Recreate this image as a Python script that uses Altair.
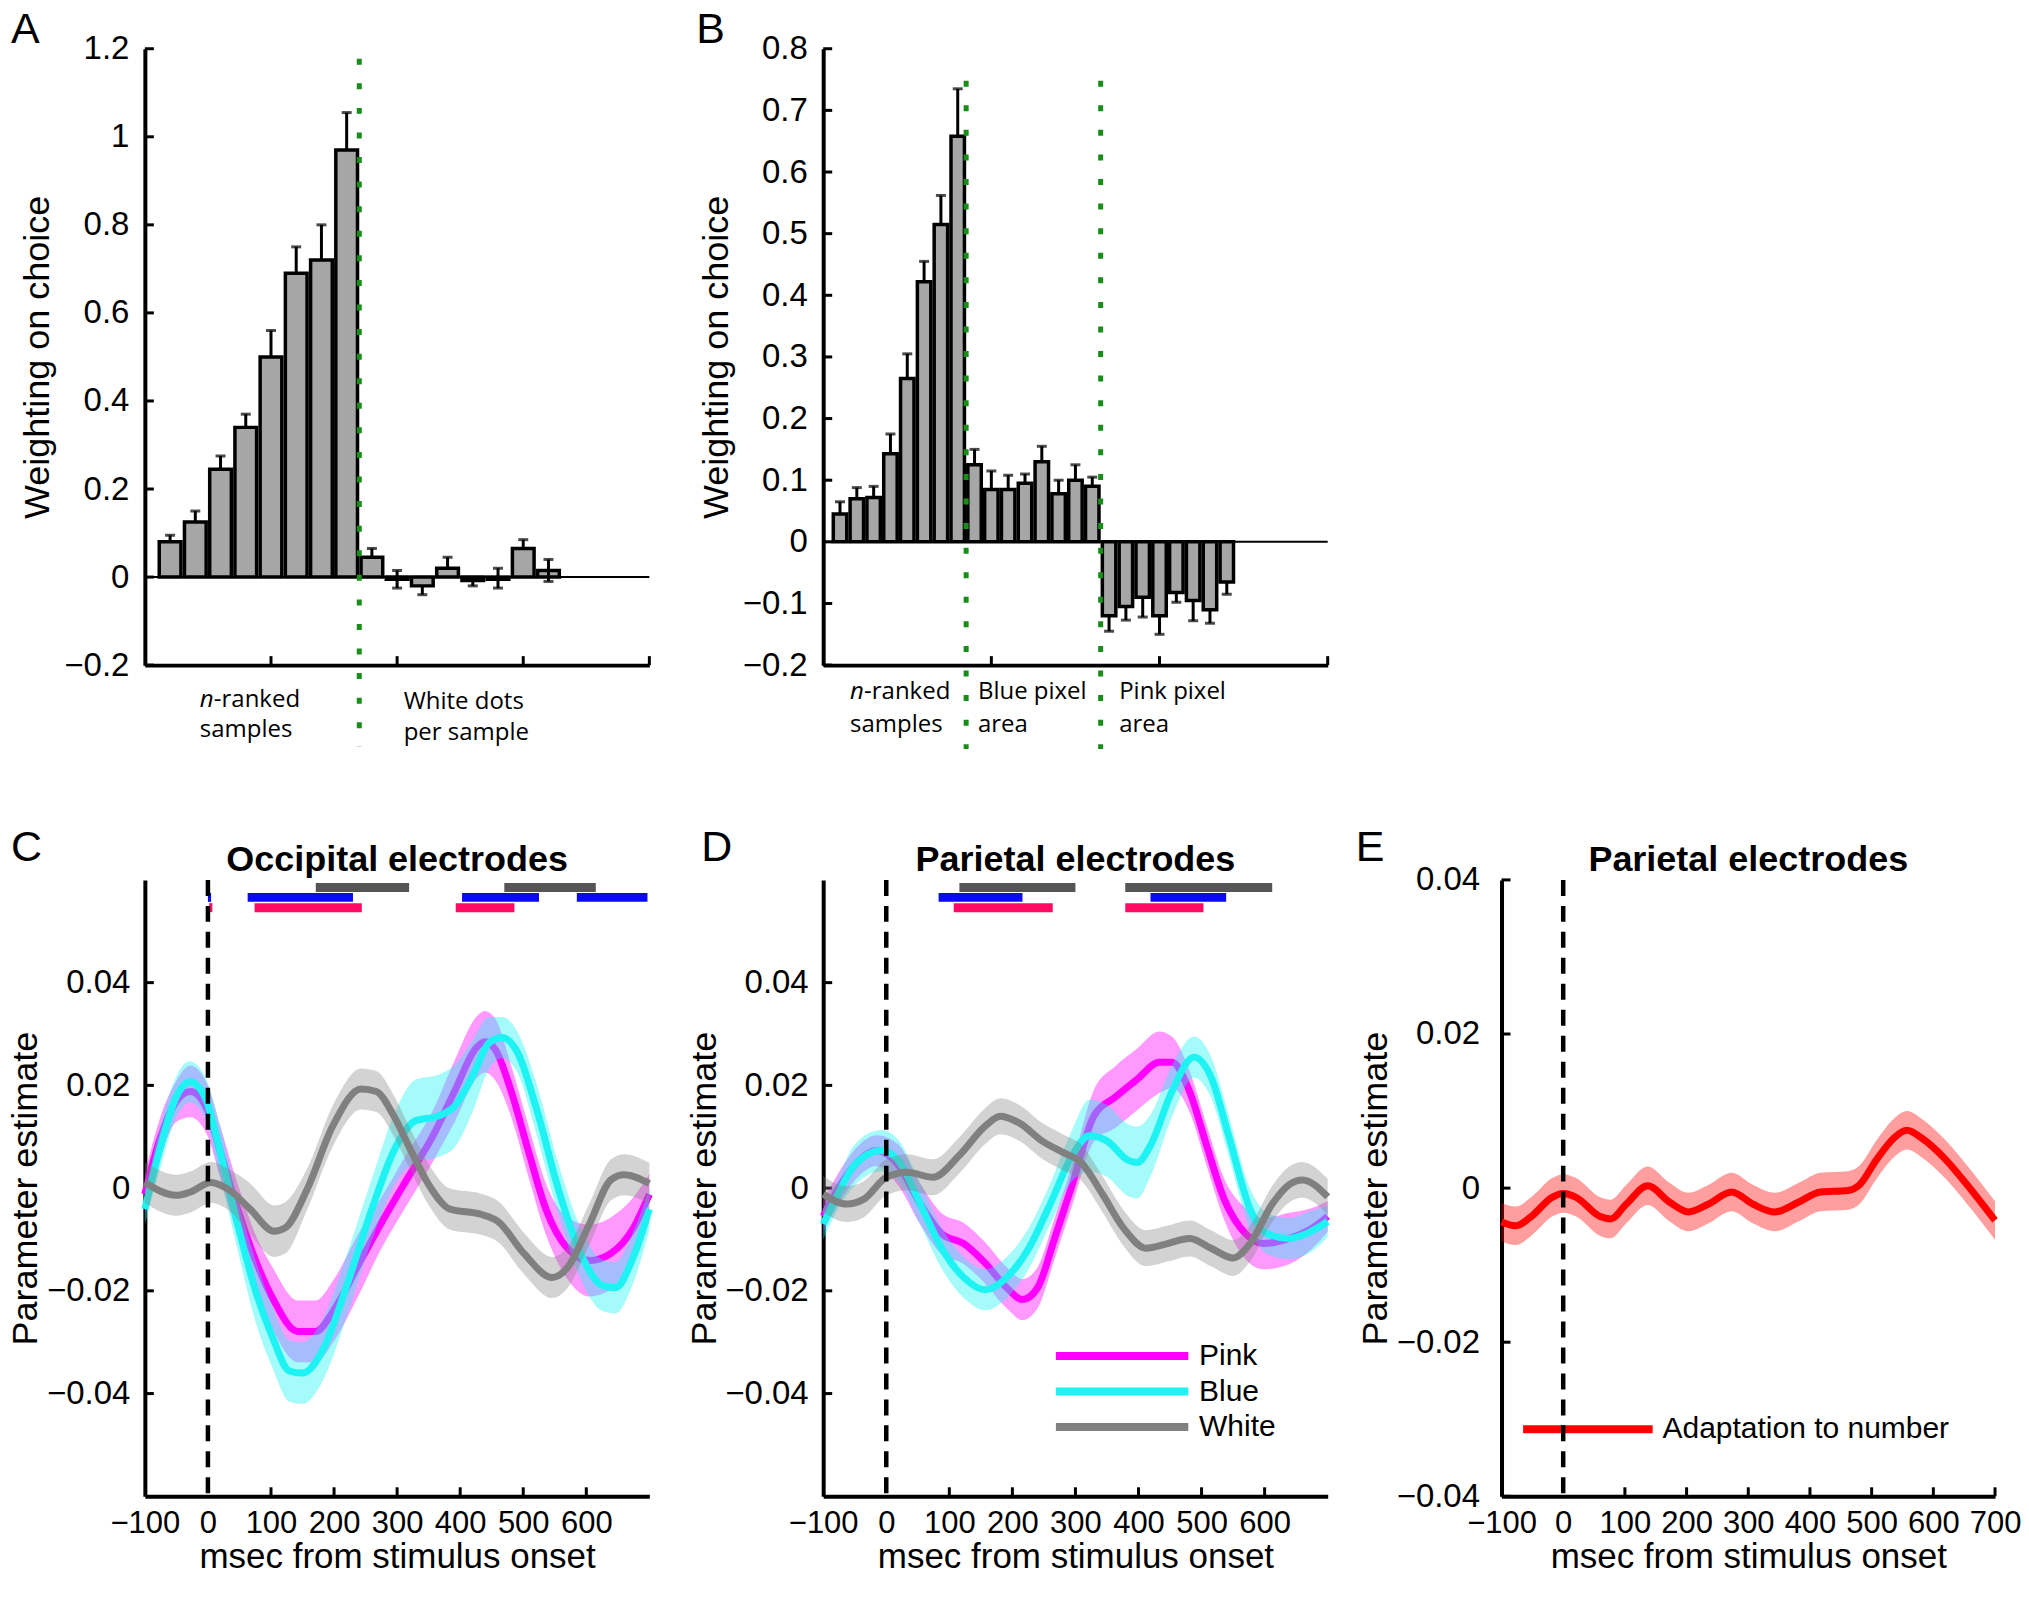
import altair as alt
import pandas as pd
import numpy as np

FONT = "Liberation Sans"
ANNOT = "Open Sans"
W = 505
WE = 494
H = 617

# ---------------- Panel A data ----------------
A_vals = [0.08, 0.125, 0.245, 0.34, 0.50, 0.69, 0.72, 0.97,
          0.045, -0.005, -0.02, 0.02, -0.008, -0.005, 0.065, 0.015]
A_hi = [0.095, 0.15, 0.275, 0.37, 0.56, 0.75, 0.80, 1.055,
        0.065, 0.015, -0.02, 0.045, -0.008, 0.02, 0.085, 0.04]
A_lo = [0.08, 0.125, 0.245, 0.34, 0.50, 0.69, 0.72, 0.97,
        0.045, -0.025, -0.04, 0.02, -0.02, -0.025, 0.065, -0.01]
A_yticks = [-0.2, 0, 0.2, 0.4, 0.6, 0.8, 1.0, 1.2]
A_xticks = [5, 10, 15, 20]
A_dividers = [8.5]

# ---------------- Panel B data ----------------
B_vals = [0.045, 0.07, 0.072, 0.143, 0.265, 0.422, 0.515, 0.658,
          0.125, 0.085, 0.085, 0.095, 0.13, 0.078, 0.10, 0.09,
          -0.12, -0.105, -0.09, -0.12, -0.082, -0.095, -0.11, -0.065]
B_err = [0.065, 0.088, 0.09, 0.175, 0.305, 0.455, 0.562, 0.735,
         0.15, 0.115, 0.108, 0.11, 0.155, 0.10, 0.125, 0.105,
         -0.145, -0.127, -0.122, -0.15, -0.098, -0.128, -0.132, -0.085]
B_yticks = [-0.2, -0.1, 0, 0.1, 0.2, 0.3, 0.4, 0.5, 0.6, 0.7, 0.8]
B_xticks = [10, 20, 30]
B_dividers = [8.5, 16.5]

# ---------------- Panel C data (Occipital) ----------------
C_pink_t = [-100, -77, -50, -28, 0, 19, 47, 74, 102, 143, 171, 198, 240, 274, 315, 357,
            391, 426, 439, 456, 481, 508, 536, 570, 605, 639, 674, 700]
C_pink_v = [-0.0012, 0.0092, 0.0169, 0.0188, 0.015, 0.0073, -0.0041, -0.0136, -0.0213, -0.0279,
            -0.0279, -0.0241, -0.0146, -0.007, 0.0016, 0.0102, 0.0188, 0.0274, 0.0285, 0.0269,
            0.0188, 0.0073, -0.0041, -0.0117, -0.0141, -0.0127, -0.0079, -0.0012]
C_pink_se = [0.004, 0.004, 0.004, 0.005, 0.005, 0.005, 0.005, 0.005, 0.006, 0.006, 0.006, 0.006,
             0.006, 0.005, 0.005, 0.005, 0.006, 0.006, 0.006, 0.006, 0.005, 0.005, 0.005, 0.006,
             0.007, 0.007, 0.006, 0.004]
C_cyan_t = [-100, -77, -50, -29, -5, 19, 47, 74, 102, 129, 150, 185, 219, 260, 295, 329, 364, 391,
            419, 446, 467, 491, 522, 556, 591, 625, 646, 674, 700]
C_cyan_v = [-0.0041, 0.0073, 0.0178, 0.0207, 0.0178, 0.0073, -0.007, -0.0194, -0.0289, -0.0356,
            -0.036, -0.0308, -0.0194, -0.0041, 0.0073, 0.0131, 0.014, 0.0159, 0.0216, 0.0283,
            0.0293, 0.0264, 0.015, -0.0003, -0.0127, -0.0189, -0.0194, -0.0136, -0.0041]
C_cyan_se = [0.003, 0.004, 0.004, 0.004, 0.004, 0.005, 0.005, 0.006, 0.006, 0.006, 0.006, 0.006,
             0.006, 0.006, 0.007, 0.008, 0.008, 0.008, 0.007, 0.005, 0.004, 0.004, 0.005, 0.005,
             0.005, 0.005, 0.005, 0.005, 0.004]
C_gray_t = [-100, -50, -29, 5, 33, 67, 105, 123, 157, 198, 243, 267, 295, 322, 350, 384, 433, 460,
            501, 546, 570, 605, 639, 660, 700]
C_gray_v = [0.0011, -0.0014, -0.0008, 0.0011, -0.0003, -0.0041, -0.0084, -0.0077, -0.0003, 0.0121,
            0.0193, 0.0188, 0.014, 0.0073, 0.0007, -0.0041, -0.0051, -0.0065, -0.0127, -0.0174,
            -0.0155, -0.007, 0.0016, 0.0026, 0.0009]
C_gray_se = [0.004, 0.004, 0.004, 0.004, 0.004, 0.005, 0.005, 0.005, 0.004, 0.004, 0.004, 0.004,
             0.004, 0.004, 0.004, 0.004, 0.004, 0.004, 0.004, 0.004, 0.004, 0.004, 0.004, 0.004,
             0.004]
C_sig_start = [171, 470, 0, 63, 403, 585, 2, 74, 393]
C_sig_end = [319, 615, 5, 230, 525, 697, 7, 244, 486]
C_sig_row = ["White", "White", "Blue", "Blue", "Blue", "Blue", "Pink", "Pink", "Pink"]

# ---------------- Panel D data (Parietal) ----------------
D_pink_t = [-100, -77, -50, -15, 19, 54, 88, 123, 157, 191, 216, 240, 267, 295, 329, 364, 398,
            433, 453, 481, 508, 536, 570, 598, 639, 674, 700]
D_pink_v = [-0.0055, -0.0003, 0.0045, 0.0073, 0.0045, -0.0031, -0.0089, -0.0108, -0.0146,
            -0.0194, -0.0217, -0.0194, -0.0098, 0.0007, 0.014, 0.0178, 0.0212, 0.0245, 0.0245,
            0.0188, 0.0083, -0.0022, -0.0089, -0.0108, -0.0098, -0.0079, -0.0055]
D_pink_se = [0.003, 0.003, 0.003, 0.003, 0.004, 0.004, 0.004, 0.004, 0.004, 0.004, 0.004, 0.004,
             0.004, 0.004, 0.005, 0.006, 0.006, 0.006, 0.005, 0.004, 0.004, 0.004, 0.005, 0.005,
             0.005, 0.004, 0.003]
D_cyan_t = [-100, -77, -50, -8, 19, 54, 88, 123, 157, 191, 226, 260, 295, 322, 350, 384, 398, 419,
            453, 488, 515, 543, 577, 605, 639, 674, 700]
D_cyan_v = [-0.007, -0.0012, 0.0045, 0.0073, 0.0054, -0.0031, -0.0117, -0.0174, -0.0198, -0.0174,
            -0.0117, -0.0031, 0.0064, 0.0102, 0.0092, 0.0054, 0.005, 0.0083, 0.0188, 0.0255,
            0.0216, 0.0102, -0.0041, -0.0089, -0.0098, -0.0084, -0.0065]
D_cyan_se = [0.003, 0.003, 0.004, 0.004, 0.004, 0.004, 0.004, 0.004, 0.004, 0.004, 0.004, 0.004,
             0.005, 0.007, 0.007, 0.007, 0.007, 0.006, 0.005, 0.004, 0.004, 0.004, 0.004, 0.004,
             0.004, 0.004, 0.003]
D_gray_t = [-100, -63, -36, 0, 33, 74, 116, 157, 181, 212, 247, 281, 309, 343, 377, 412, 446, 481,
            515, 550, 577, 612, 639, 660, 700]
D_gray_v = [-0.0012, -0.0031, -0.0022, 0.0021, 0.0031, 0.0021, 0.0064, 0.0121, 0.014, 0.0126,
            0.0092, 0.0069, 0.005, -0.0012, -0.0079, -0.0117, -0.0108, -0.0098, -0.0117, -0.0136,
            -0.0108, -0.0031, 0.0007, 0.0016, -0.0017]
D_gray_se = [0.0035] * 25
D_sig_start = [116, 379, 83, 419, 107, 379]
D_sig_end = [300, 612, 216, 539, 264, 503]
D_sig_row = ["White", "White", "Blue", "Blue", "Pink", "Pink"]

# ---------------- Panel E data ----------------
E_t = [-100, -77, -52, -18, 0, 21, 60, 77, 102, 137, 172, 203, 235, 273, 308, 343, 382, 417, 462,
       480, 508, 536, 557, 581, 620, 655, 700]
E_v = [-0.0044, -0.0049, -0.0037, -0.0012, -0.0007, -0.0012, -0.0037, -0.004, -0.0021, 0.0003,
       -0.0018, -0.0031, -0.0021, -0.0005, -0.0021, -0.0031, -0.0018, -0.0005, -0.0003, 0.0004,
       0.0037, 0.0065, 0.0075, 0.0065, 0.0037, 0.0004, -0.0042]
E_se = [0.0025] * 27

# legends
D_leg_names = ["Pink", "Blue", "White"]
D_leg_y = [-0.0327, -0.0396, -0.0465]
D_leg_x = [269, 479, 496]
E_leg_names = ["Adaptation to number"]
E_leg_y = [-0.0313]
E_leg_x = [-65, 145, 161]

COL = {"Pink": "#ff00ff", "Blue": "#1ff2f2", "White": "#808080", "Red": "#ff0000"}
SIGCOL = {"White": "#555555", "Blue": "#0a0aee", "Pink": "#ff0a64"}
SIGY = {"White": 0.0585, "Blue": 0.0566, "Pink": 0.0546}
LINE_T = [-100, 0, 100, 200, 300, 400, 500, 600]
LINE_T_E = [-100, 0, 100, 200, 300, 400, 500, 600, 700]
CD_yticks = [-0.04, -0.02, 0, 0.02, 0.04]


class P:
    """Holds the shared scales/axes of one panel so every layer uses identical definitions."""
    def __init__(self, xs, ys, xaxis, yaxis):
        self.xs, self.ys, self.xa, self.ya = xs, ys, xaxis, yaxis

    def X(self, f):
        return alt.X(f, scale=self.xs, axis=self.xa)

    def Y(self, f):
        return alt.Y(f, scale=self.ys, axis=self.ya)


def letter(t, dx, dy):
    return alt.Chart(pd.DataFrame({"t": [t]})).mark_text(
        align="left", baseline="top", fontSize=43, font=FONT, color="black"
    ).encode(x=alt.value(dx), y=alt.value(dy), text="t:N")


def ticks(p, xticks, yticks, L=9):
    xt = alt.Chart(pd.DataFrame({"v": xticks})).mark_rule(color="black", strokeWidth=3).encode(
        x=p.X("v:Q"), y=alt.value(H), y2=alt.value(H - L))
    yt = alt.Chart(pd.DataFrame({"w": yticks})).mark_rule(color="black", strokeWidth=3).encode(
        y=p.Y("w:Q"), x=alt.value(0), x2=alt.value(L))
    return [xt, yt]


def text_data(p, x, ypx, text, size=24, font=ANNOT, style="normal", dx=0):
    return alt.Chart(pd.DataFrame({"x": [x], "t": [text]})).mark_text(
        align="left", baseline="middle", fontSize=size, font=font, fontStyle=style, dx=dx, color="black"
    ).encode(x=p.X("x:Q"), y=alt.value(ypx), text="t:N")


def bar_panel(vals, hi, lo, xmax, xticks, yticks, halfw, dividers, div_top, div_bot, labels, let, let_dx):
    n = len(vals)
    df = pd.DataFrame({"pos": np.arange(1, n + 1), "val": vals, "hi": hi, "lo": lo})
    df["x0"] = df["pos"] - halfw
    df["x1"] = df["pos"] + halfw
    df["zero"] = 0.0
    xs = alt.Scale(domain=[0, xmax], nice=False, zero=False)
    ys = alt.Scale(domain=[yticks[0], yticks[-1]], nice=False, zero=False)
    xaxis = alt.Axis(values=xticks, labels=False, ticks=False, title=None, grid=False,
                     domainColor="black", domainWidth=4)
    yaxis = alt.Axis(values=yticks, format="~g", labelFontSize=33, labelPadding=16, labelFont=FONT,
                     labelColor="black", labelOverlap=False, title="Weighting on choice",
                     titleFont=FONT, titleFontSize=36, titleFontWeight="normal", titleColor="black",
                     titlePadding=5, minExtent=83, maxExtent=83, ticks=False, grid=False,
                     domainColor="black", domainWidth=4)
    p = P(xs, ys, xaxis, yaxis)
    layers = ticks(p, xticks, yticks)
    zero = alt.Chart(pd.DataFrame({"a": [0], "b": [xmax], "y": [0]})).mark_rule(
        color="black", strokeWidth=2).encode(x=p.X("a:Q"), x2="b:Q", y=p.Y("y:Q"))
    bars = alt.Chart(df).mark_bar(fill="#a6a6a6", stroke="black", strokeWidth=3.5).encode(
        x=p.X("x0:Q"), x2="x1:Q", y=p.Y("val:Q"), y2="zero:Q")
    stems = alt.Chart(df).mark_rule(color="black", strokeWidth=3).encode(
        x=p.X("pos:Q"), y=p.Y("lo:Q"), y2="hi:Q")
    cap_pos = list(df["pos"][df["hi"] != df["val"]]) + list(df["pos"][df["lo"] != df["val"]])
    cap_y = list(df["hi"][df["hi"] != df["val"]]) + list(df["lo"][df["lo"] != df["val"]])
    caps = alt.Chart(pd.DataFrame({"p": cap_pos, "c": cap_y})).mark_tick(
        orient="horizontal", size=10, thickness=3, color="black").encode(
        x=p.X("p:Q"), y=p.Y("c:Q"))
    div = alt.Chart(pd.DataFrame({"d": dividers})).mark_rule(
        color="#1a8c1a", strokeWidth=5, strokeDash=[6, 18.6]).encode(
        x=p.X("d:Q"), y=alt.value(div_top), y2=alt.value(div_bot))
    layers += [zero, bars, stems, caps, div]
    for (x, ypx, txt, style, dx) in labels:
        layers.append(text_data(p, x, ypx, txt, style=style, dx=dx))
    layers.append(letter(let, let_dx, -40))
    return alt.layer(*layers).properties(width=W, height=H)


def series(t, v, se, color, op):
    v = np.array(v)
    se = np.array(se)
    df = pd.DataFrame({"t": t, "v": v, "lo": v - se, "hi": v + se})
    return df, color, op


def line_panel(title, ser, ydom, yticks, tvals, sig, legend, let, let_dx, width):
    xs = alt.Scale(domain=[-100, 700], nice=False, zero=False)
    ys = alt.Scale(domain=ydom, nice=False, zero=False)
    ext = 98 if ydom[1] > 0.05 else 105
    lp = 15 if ydom[1] > 0.05 else 22
    xaxis = alt.Axis(values=tvals, format="d", labelFontSize=31, labelPadding=12, labelFont=FONT,
                     labelColor="black", labelOverlap=False, labelFlush=False,
                     title="msec from stimulus onset", titleFont=FONT, titleFontSize=35,
                     titleFontWeight="normal", titleColor="black", titlePadding=1, ticks=False,
                     grid=False, domainColor="black", domainWidth=4)
    yaxis = alt.Axis(values=yticks, format="~g", labelFontSize=33, labelPadding=lp, labelFont=FONT,
                     labelColor="black", labelOverlap=False, title="Parameter estimate",
                     titleFont=FONT, titleFontSize=36, titleFontWeight="normal", titleColor="black",
                     titlePadding=2, minExtent=ext, maxExtent=ext, ticks=False, grid=False,
                     domainColor="black", domainWidth=4)
    p = P(xs, ys, xaxis, yaxis)
    layers = ticks(p, [t for t in tvals if t > 0], yticks)
    for df, color, op in ser:
        band = alt.Chart(df).mark_area(color=color, opacity=op, interpolate="monotone").encode(
            x=p.X("t:Q"), y=p.Y("lo:Q"), y2="hi:Q")
        line = alt.Chart(df).mark_line(color=color, strokeWidth=7, interpolate="monotone").encode(
            x=p.X("t:Q"), y=p.Y("v:Q"))
        layers += [band, line]
    if sig is not None:
        s0, s1, rows = sig
        sdf = pd.DataFrame({"s": s0, "e": s1, "r": rows})
        sdf["y"] = sdf["r"].map(SIGY)
        sdf["c"] = sdf["r"].map(SIGCOL)
        layers.append(alt.Chart(sdf).mark_rule(strokeWidth=9).encode(
            x=p.X("s:Q"), x2="e:Q", y=p.Y("y:Q"), color=alt.Color("c:N", scale=None)))
    if legend is not None:
        names, ly, lx, colors = legend
        ldf = pd.DataFrame({"n": names, "y": ly, "a": lx[0], "b": lx[1], "tx": lx[2], "c": colors})
        layers.append(alt.Chart(ldf).mark_rule(strokeWidth=8).encode(
            x=p.X("a:Q"), x2="b:Q", y=p.Y("y:Q"), color=alt.Color("c:N", scale=None)))
        layers.append(alt.Chart(ldf).mark_text(
            align="left", baseline="middle", fontSize=30, font=FONT, color="black").encode(
            x=p.X("tx:Q"), y=p.Y("y:Q"), text="n:N"))
    dash = alt.Chart(pd.DataFrame({"z": [0]})).mark_rule(
        color="black", strokeWidth=4.5, strokeDash=[16, 10]).encode(
        x=p.X("z:Q"), y=alt.value(0), y2=alt.value(H))
    layers.append(dash)
    layers.append(alt.Chart(pd.DataFrame({"t": [title]})).mark_text(
        align="center", baseline="middle", fontSize=36, fontWeight="bold", font=FONT, color="black"
    ).encode(x=alt.value(width / 2), y=alt.value(-20), text="t:N"))
    layers.append(letter(let, let_dx, -53))
    return alt.layer(*layers).properties(width=width, height=H)


A_labels = [(2.18, H + 35, "n", "italic", 0), (2.18, H + 35, "-ranked", "normal", 14),
            (2.18, H + 65, "samples", "normal", 0),
            (10.26, H + 37, "White dots", "normal", 0), (10.26, H + 68, "per sample", "normal", 0)]
B_labels = [(1.6, H + 27, "n", "italic", 0), (1.6, H + 27, "-ranked", "normal", 14),
            (1.6, H + 60, "samples", "normal", 0),
            (9.2, H + 27, "Blue pixel", "normal", 0), (9.2, H + 60, "area", "normal", 0),
            (17.6, H + 27, "Pink pixel", "normal", 0), (17.6, H + 60, "area", "normal", 0)]

B_hi = [e if v >= 0 else v for v, e in zip(B_vals, B_err)]
B_lo = [v if v >= 0 else e for v, e in zip(B_vals, B_err)]

panelA = bar_panel(A_vals, A_hi, A_lo, 20, A_xticks, A_yticks, 0.43, A_dividers, 10, 699,
                   A_labels, "A", -134)
panelB = bar_panel(B_vals, B_hi, B_lo, 30, B_xticks, B_yticks, 0.40, B_dividers, 32, 701,
                   B_labels, "B", -127)

C_ser = [series(C_pink_t, C_pink_v, C_pink_se, COL["Pink"], 0.4),
         series(C_cyan_t, C_cyan_v, C_cyan_se, COL["Blue"], 0.4),
         series(C_gray_t, C_gray_v, C_gray_se, COL["White"], 0.35)]
D_ser = [series(D_pink_t, D_pink_v, D_pink_se, COL["Pink"], 0.4),
         series(D_cyan_t, D_cyan_v, D_cyan_se, COL["Blue"], 0.4),
         series(D_gray_t, D_gray_v, D_gray_se, COL["White"], 0.35)]
E_ser = [series(E_t, E_v, E_se, COL["Red"], 0.38)]

panelC = line_panel("Occipital electrodes", C_ser, [-0.06, 0.06], CD_yticks, LINE_T,
                    (C_sig_start, C_sig_end, C_sig_row), None, "C", -134, W)
panelD = line_panel("Parietal electrodes", D_ser, [-0.06, 0.06], CD_yticks, LINE_T,
                    (D_sig_start, D_sig_end, D_sig_row),
                    (D_leg_names, D_leg_y, D_leg_x, [COL[n] for n in D_leg_names]), "D", -122, W)
panelE = line_panel("Parietal electrodes", E_ser, [-0.04, 0.04], CD_yticks, LINE_T_E,
                    None, (E_leg_names, E_leg_y, E_leg_x, [COL["Red"]]), "E", -146, WE)

blank = alt.Chart(pd.DataFrame({"t": [""]})).mark_text().encode(text="t:N").properties(width=WE, height=H)

chart = alt.concat(panelA, panelB, blank, panelC, panelD, panelE, columns=3,
                   spacing={"row": 215, "column": 174}, bounds="flush", align="each").properties(
    padding=0, background="white").configure_view(stroke=None)

chart.save("out.html", embed_options={"renderer": "svg", "actions": False})
